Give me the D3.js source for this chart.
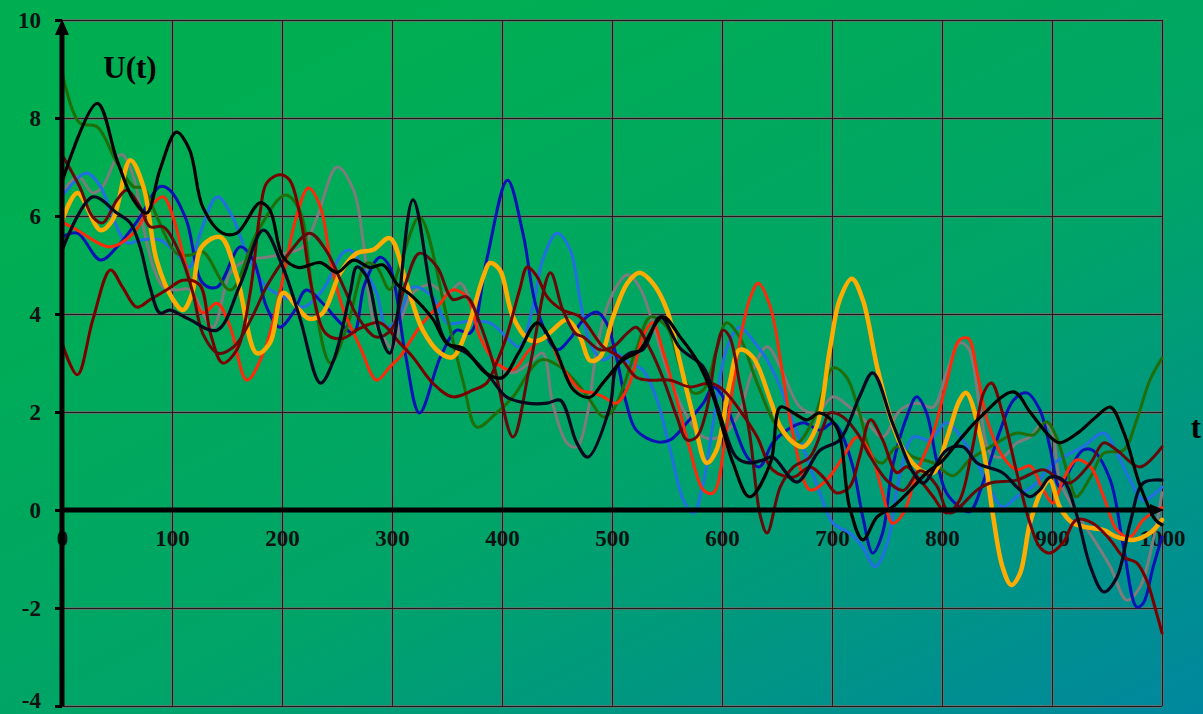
<!doctype html>
<html>
<head>
<meta charset="utf-8">
<script src="https://cdn.jsdelivr.net/npm/d3@7"></script>
<style>
  body { margin: 0; background: #00a860; }
  svg { display: block; }
</style>
</head>
<body>
<svg width="1203" height="714"></svg>
<script>
// tick values
const xTicks = [0, 100, 200, 300, 400, 500, 600, 700, 800, 900, 1000];
const yTicks = [-4, -2, 0, 2, 4, 6, 8, 10];

// series: [t, U(t)]
const green = [[0,8.94],[16,7.9],[32,7.82],[50,7.08],[65,6.6],[74,6.57],[86,6.0],[104,5.24],[116,5.2],[128,5.27],[153,4.49],[177,5.65],[203,6.43],[216,6.12],[228,4.43],[244,3.0],[259,3.73],[277,5.04],[286,4.96],[298,4.5],[310,5.2],[325,5.98],[350,3.94],[365,2.59],[377,1.69],[395,1.98],[410,2.31],[435,3.06],[453,2.92],[471,2.51],[480,2.24],[492,1.9],[501,2.04],[522,3.27],[535,3.94],[550,3.73],[562,2.92],[574,2.39],[583,2.45],[595,3.27],[604,3.82],[616,3.53],[632,2.59],[650,1.7],[668,1.37],[683,1.84],[701,2.9],[713,2.72],[725,1.98],[737,1.08],[746,0.96],[759,1.29],[774,1.08],[792,0.96],[810,0.7],[825,1.02],[844,1.29],[868,1.57],[883,1.53],[895,1.8],[904,1.49],[916,0.61],[922,0.27],[935,0.67],[947,1.16],[965,1.22],[977,1.84],[989,2.65],[1000,3.1]];

const blackA = [[0,6.7],[32,8.3],[50,7.14],[65,6.33],[77,6.06],[89,6.94],[104,7.71],[116,7.35],[128,6.18],[146,5.65],[159,5.65],[180,6.27],[189,6.12],[201,5.16],[215,4.95],[235,5.05],[250,4.85],[265,5.1],[280,4.95],[292,5.0],[305,4.6],[319,4.35],[337,3.9],[350,3.4],[365,3.3],[385,2.8],[400,2.7],[415,3.2],[432,3.82],[448,3.3],[465,2.45],[480,2.3],[492,2.6],[510,3.06],[525,3.25],[546,3.94],[562,3.53],[577,3.06],[592,2.31],[610,0.96],[625,0.27],[644,0.96],[653,2.1],[665,1.98],[677,1.84],[689,1.98],[704,1.7],[716,0.06],[728,-0.61],[741,-0.14],[755,0.06],[774,0.47],[786,0.76],[801,1.02],[816,1.43],[835,1.9],[865,2.41],[880,2.0],[898,1.5],[907,1.37],[925,1.6],[940,1.9],[953,2.1],[965,1.6],[980,0.5],[994,-0.2],[1000,-0.3]];

const blackB = [[0,5.3],[28,6.39],[50,6.06],[62,5.86],[71,5.37],[80,4.55],[89,4.02],[98,4.08],[115,3.9],[141,3.67],[162,4.6],[183,5.71],[200,5.0],[216,3.94],[235,2.59],[247,3.06],[262,4.43],[268,4.96],[277,4.76],[289,3.61],[298,3.2],[319,6.33],[337,4.29],[350,3.41],[368,3.2],[389,2.71],[404,2.31],[423,2.18],[441,2.18],[453,2.24],[468,1.37],[478,1.08],[498,2.1],[504,2.92],[516,3.2],[528,3.27],[544,3.94],[562,3.3],[583,2.92],[595,2.18],[613,1.08],[625,0.96],[637,1.02],[646,1.08],[668,0.57],[689,1.22],[707,1.43],[725,2.31],[737,2.8],[755,1.78],[774,0.76],[783,0.55],[804,1.22],[819,1.29],[832,0.96],[855,0.76],[868,0.47],[880,0.27],[889,0.41],[898,0.67],[910,0.61],[922,-0.06],[935,-1.16],[947,-1.67],[959,-1.37],[971,-0.27],[983,0.55],[1000,0.61]];

const darkBlue = [[0,5.57],[14,5.65],[35,5.1],[50,5.37],[71,5.98],[89,6.6],[98,6.53],[113,5.92],[128,4.63],[141,4.55],[162,5.37],[174,5.1],[186,4.14],[198,3.73],[210,4.02],[222,4.49],[237,4.22],[253,3.82],[265,3.61],[275,4.6],[289,5.16],[298,4.96],[312,3.2],[325,1.98],[344,3.12],[359,3.67],[371,3.61],[386,5.1],[405,6.73],[419,5.65],[432,4.08],[450,3.27],[462,3.5],[474,3.88],[486,4.04],[495,3.82],[504,3.12],[513,2.18],[522,1.63],[541,1.39],[553,1.43],[568,1.78],[583,2.18],[592,2.51],[601,2.31],[610,1.78],[623,1.08],[634,0.88],[646,1.37],[659,1.63],[674,1.78],[689,1.63],[701,1.78],[707,1.63],[719,0.88],[728,-0.14],[737,-0.88],[746,-0.47],[755,0.88],[768,1.9],[777,2.31],[786,1.98],[795,1.02],[804,0.35],[816,0.06],[825,-0.04],[838,0.6],[853,1.63],[865,2.24],[877,2.39],[889,2.04],[898,1.29],[907,0.47],[918,0.9],[928,1.22],[937,1.22],[953,0.61],[965,-0.76],[977,-1.98],[983,-1.9],[992,-1.16],[1000,-0.55]];

const lightBlue = [[0,6.4],[22,6.88],[35,6.6],[46,5.98],[59,5.45],[71,5.51],[89,5.51],[104,5.24],[116,4.96],[125,5.6],[141,6.39],[155,5.98],[168,5.24],[186,4.55],[207,4.29],[219,4.14],[237,4.49],[255,5.24],[262,5.3],[275,4.9],[286,4.43],[295,3.73],[305,3.9],[319,4.55],[337,4.35],[350,3.82],[370,3.85],[389,3.82],[404,3.53],[416,3.33],[428,4.14],[437,5.1],[450,5.65],[462,5.31],[471,4.29],[480,3.41],[492,3.06],[503,3.2],[516,3.0],[528,2.86],[541,2.24],[553,1.22],[565,0.2],[574,-0.06],[583,0.55],[592,1.78],[604,3.27],[616,3.73],[628,3.47],[641,3.06],[653,2.51],[665,1.78],[677,1.08],[689,0.35],[701,-0.27],[716,-0.47],[728,-0.76],[739,-1.16],[750,-0.7],[762,0.76],[774,1.49],[789,1.43],[804,1.78],[819,1.43],[832,0.96],[844,0.41],[855,0.06],[868,0.27],[886,0.55],[898,0.88],[910,1.08],[928,1.29],[947,1.57],[959,1.16],[971,0.61],[983,0.2],[1000,0.47]];

const red = [[0,5.88],[14,5.71],[44,5.37],[65,5.65],[80,6.18],[92,6.39],[101,5.98],[113,4.96],[128,4.02],[141,4.22],[153,3.73],[168,2.65],[183,3.2],[198,4.43],[213,5.98],[224,6.57],[235,6.18],[244,5.1],[255,4.14],[271,3.33],[286,2.65],[298,2.92],[307,3.12],[325,3.73],[344,4.22],[355,4.49],[368,4.35],[380,3.53],[395,3.0],[410,2.86],[425,3.27],[441,3.53],[453,3.0],[471,2.45],[483,2.39],[492,2.31],[504,2.18],[516,2.59],[528,3.53],[537,3.82],[546,3.27],[559,2.24],[571,1.22],[583,0.41],[592,0.35],[604,1.63],[616,3.41],[625,4.29],[633,4.63],[644,4.14],[655,2.8],[665,1.5],[680,0.41],[695,0.61],[710,1.08],[723,1.49],[735,1.16],[746,0.35],[755,-0.27],[765,-0.06],[777,0.76],[792,1.57],[804,2.59],[816,3.47],[824,3.5],[832,2.8],[841,1.84],[855,1.1],[868,0.82],[880,0.9],[892,0.41],[901,0.14],[910,0.61],[922,1.02],[935,0.88],[947,0.27],[959,-0.41],[971,-0.55],[983,-0.2],[1000,0.05]];

const orange = [[0,5.9],[14,6.47],[35,5.71],[46,5.92],[62,7.14],[74,6.6],[86,5.1],[101,4.29],[110,4.08],[118,4.4],[127,5.37],[144,5.57],[159,4.76],[177,3.2],[189,3.41],[201,4.43],[215,4.1],[225,3.9],[237,4.02],[253,4.84],[268,5.24],[283,5.31],[298,5.55],[313,4.63],[328,3.67],[344,3.2],[355,3.12],[368,3.67],[383,4.76],[389,5.04],[398,4.9],[410,3.94],[425,3.47],[435,3.47],[446,3.67],[459,3.88],[471,3.53],[480,3.05],[489,3.12],[501,3.94],[514,4.63],[525,4.84],[537,4.63],[550,4.08],[562,3.0],[574,1.9],[586,0.96],[595,1.22],[607,2.59],[616,3.27],[628,3.12],[644,2.24],[653,1.7],[665,1.37],[674,1.29],[686,1.7],[698,3.27],[707,4.29],[718,4.72],[728,4.29],[741,2.92],[753,1.9],[765,1.22],[780,0.82],[792,0.76],[804,1.43],[816,2.24],[822,2.39],[837,1.29],[846,-0.06],[855,-1.16],[863,-1.53],[871,-1.29],[880,-0.27],[892,0.47],[898,0.61],[907,0.06],[919,-0.27],[931,-0.35],[947,-0.41],[959,-0.55],[974,-0.61],[989,-0.47],[1000,-0.2]];

const gray = [[0,6.47],[15,6.8],[28,6.47],[37,6.6],[50,7.2],[55,7.25],[65,6.8],[74,5.78],[83,4.96],[92,4.55],[104,4.49],[116,4.5],[137,3.73],[153,4.84],[168,5.1],[186,5.16],[204,5.24],[219,5.37],[232,5.98],[250,7.0],[265,6.53],[274,5.45],[283,3.88],[292,3.53],[300,3.3],[310,4.0],[319,4.43],[335,4.6],[350,4.4],[362,4.63],[372,4.2],[380,3.53],[395,3.0],[410,2.8],[425,3.0],[437,3.2],[446,2.18],[459,1.37],[468,1.29],[478,2.0],[486,3.27],[498,4.29],[514,4.8],[525,4.55],[537,3.82],[550,2.86],[565,2.04],[583,1.49],[598,1.49],[614,1.9],[628,2.86],[641,3.33],[653,2.92],[671,2.1],[686,1.98],[701,2.31],[716,2.1],[732,1.78],[746,1.49],[762,2.04],[777,2.18],[792,2.1],[804,2.8],[816,3.41],[824,3.3],[835,2.0],[844,1.16],[855,1.08],[868,1.37],[880,1.49],[892,1.78],[900,1.6],[907,0.61],[922,-0.06],[938,-0.6],[953,-1.16],[968,-1.84],[980,-1.57],[992,-0.61],[1000,0.35]];

const maroonA = [[0,7.25],[16,6.6],[28,5.98],[37,5.86],[50,6.33],[59,6.53],[71,6.18],[80,5.78],[92,5.78],[107,5.24],[119,4.43],[128,3.6],[142,3.2],[157,3.35],[172,3.9],[187,4.6],[205,5.2],[225,5.65],[240,5.3],[255,4.6],[270,3.9],[286,3.53],[300,3.7],[312,4.6],[325,5.24],[341,4.96],[355,4.3],[368,4.35],[380,3.8],[392,3.0],[410,1.49],[425,2.9],[444,4.84],[455,4.1],[467,3.6],[474,3.53],[489,3.27],[501,3.33],[514,3.61],[522,3.73],[535,3.27],[546,2.71],[559,1.9],[568,1.43],[577,1.49],[586,2.04],[595,3.27],[601,3.67],[607,3.53],[616,2.59],[625,1.57],[635,-0.14],[641,-0.47],[653,0.47],[665,0.88],[680,1.08],[692,1.7],[698,1.98],[710,1.9],[723,1.57],[735,1.08],[750,0.6],[765,0.4],[780,0.8],[795,0.5],[807,-0.06],[832,0.41],[844,0.55],[868,0.61],[892,0.82],[904,0.67],[916,0.55],[935,0.96],[947,1.37],[959,1.22],[980,0.88],[1000,1.29]];

const maroonB = [[0,3.41],[14,2.76],[28,3.88],[44,4.9],[55,4.55],[68,4.14],[80,4.29],[95,4.49],[110,4.69],[125,4.6],[135,3.6],[146,3.0],[159,3.27],[171,4.43],[180,6.06],[186,6.67],[198,6.84],[207,6.73],[216,6.06],[228,4.43],[240,3.6],[255,3.5],[270,3.7],[289,3.82],[307,3.41],[319,3.12],[337,2.59],[355,2.31],[374,2.45],[386,2.59],[395,3.0],[404,3.53],[416,4.49],[423,4.96],[432,4.76],[441,4.35],[455,4.08],[471,3.94],[492,3.33],[507,3.12],[522,2.71],[535,2.65],[553,2.65],[571,2.51],[589,2.59],[601,2.45],[616,2.04],[632,1.49],[646,0.82],[665,0.67],[680,0.88],[692,0.67],[704,0.35],[716,0.47],[725,1.08],[735,1.84],[746,1.43],[759,0.76],[768,0.88],[780,0.61],[792,0.27],[804,-0.06],[816,0.2],[828,1.3],[838,2.4],[845,2.59],[855,1.98],[868,0.76],[880,-0.27],[889,-0.76],[898,-0.88],[910,-0.67],[922,-0.2],[937,-0.27],[953,-0.61],[965,-0.96],[977,-1.08],[986,-1.43],[995,-2.1],[1000,-2.51]];

// drawing order, bottom to top, with line styles
const series = [
  { data: gray,      color: "#7c7c7c", width: 3 },
  { data: lightBlue, color: "#2070e2", width: 3 },
  { data: darkBlue,  color: "#0a12b6", width: 3 },
  { data: green,     color: "#1f6e0a", width: 3 },
  { data: red,       color: "#ff2a0a", width: 3 },
  { data: orange,    color: "#ffac00", width: 4.5 },
  { data: maroonB,   color: "#7a0000", width: 3 },
  { data: maroonA,   color: "#640a0a", width: 3 },
  { data: blackB,    color: "#08081e", width: 3.2 },
  { data: blackA,    color: "#000000", width: 3.2 }
];

var svg = d3.select("svg"),
    W = +svg.attr("width"),
    H = +svg.attr("height");

var x = d3.scaleLinear().domain([0, 1000]).range([62, 1162]),
    y = d3.scaleLinear().domain([-4, 10]).range([706, 20]);

var serif = "'Liberation Serif', 'Times New Roman', serif";

// background
var defs = svg.append("defs");
var grad = defs.append("linearGradient")
    .attr("id", "bg")
    .attr("x1", "0.25").attr("y1", "0.1")
    .attr("x2", "1").attr("y2", "1");
grad.append("stop").attr("offset", "0").attr("stop-color", "#00ae52");
grad.append("stop").attr("offset", "0.5").attr("stop-color", "#00a468");
grad.append("stop").attr("offset", "1").attr("stop-color", "#00879f");
svg.append("rect").attr("width", W).attr("height", H).attr("fill", "url(#bg)");

// grid: gray halo + dark core
function grid(color, width) {
    var gx = svg.append("g")
        .attr("transform", "translate(0," + y(-4) + ")")
        .call(d3.axisBottom(x).tickValues(xTicks).tickSize(-(y(-4) - y(10))).tickFormat(""));
    var gy = svg.append("g")
        .attr("transform", "translate(" + x(0) + ",0)")
        .call(d3.axisLeft(y).tickValues(yTicks).tickSize(-(x(1000) - x(0))).tickFormat(""));
    [gx, gy].forEach(function (g) {
        g.select(".domain").remove();
        g.selectAll("line").attr("stroke", color).attr("stroke-width", width);
    });
}
grid("#6e6e6e", 2.6);
grid("#1c1c1c", 1);

// x tick labels
var xl = svg.append("g")
    .attr("transform", "translate(0," + y(0) + ")")
    .call(d3.axisBottom(x).tickValues(xTicks).tickSize(0).tickPadding(20).tickFormat(function (d) { return String(d); }));
xl.select(".domain").remove();
xl.selectAll("text")
    .style("font-family", serif)
    .style("font-weight", "bold")
    .style("font-size", "23px")
    .attr("fill", "#111");

// y tick labels + small ticks
var yl = svg.append("g")
    .attr("transform", "translate(" + x(0) + ",0)")
    .call(d3.axisLeft(y).tickValues(yTicks).tickSize(7).tickPadding(14).tickFormat(function (d) { return String(d); }));
yl.select(".domain").remove();
yl.selectAll("line").attr("stroke", "#000").attr("stroke-width", 3);
yl.selectAll("text")
    .style("font-family", serif)
    .style("font-weight", "bold")
    .style("font-size", "23px")
    .attr("fill", "#111");
// keep the lowest label inside the picture
yl.selectAll(".tick").filter(function (d) { return d === -4; })
    .select("text").attr("y", -6);

// curves
var line = d3.line()
    .x(function (d) { return x(d[0]); })
    .y(function (d) { return y(d[1]); })
    .curve(d3.curveCatmullRom.alpha(0.5));

svg.append("g").selectAll("path")
    .data(series)
    .enter()
    .append("path")
    .attr("d", function (d) { return line(d.data); })
    .attr("fill", "none")
    .attr("stroke", function (d) { return d.color; })
    .attr("stroke-width", function (d) { return d.width; })
    .attr("stroke-linejoin", "round")
    .attr("stroke-linecap", "round");

// axes lines with arrows
svg.append("line")
    .attr("x1", x(0)).attr("y1", y(-4))
    .attr("x2", x(0)).attr("y2", y(10) + 12)
    .attr("stroke", "#000").attr("stroke-width", 5);
svg.append("path")
    .attr("d", "M" + x(0) + "," + (y(10) - 1) + "L" + (x(0) - 7) + "," + (y(10) + 15) + "L" + (x(0) + 7) + "," + (y(10) + 15) + "Z")
    .attr("fill", "#000");
svg.append("line")
    .attr("x1", x(0)).attr("y1", y(0))
    .attr("x2", x(1000) - 8).attr("y2", y(0))
    .attr("stroke", "#000").attr("stroke-width", 5);
svg.append("path")
    .attr("d", "M" + (x(1000) + 2) + "," + y(0) + "L" + (x(1000) - 12) + "," + (y(0) - 6) + "L" + (x(1000) - 12) + "," + (y(0) + 6) + "Z")
    .attr("fill", "#000");

// axis titles
svg.append("text")
    .attr("x", 130).attr("y", 78)
    .attr("text-anchor", "middle")
    .style("font-family", serif)
    .style("font-weight", "bold")
    .style("font-size", "31px")
    .attr("fill", "#000")
    .text("U(t)");
svg.append("text")
    .attr("x", 1196).attr("y", 438)
    .attr("text-anchor", "middle")
    .style("font-family", serif)
    .style("font-weight", "bold")
    .style("font-size", "31px")
    .attr("fill", "#000")
    .text("t");
</script>
</body>
</html>
